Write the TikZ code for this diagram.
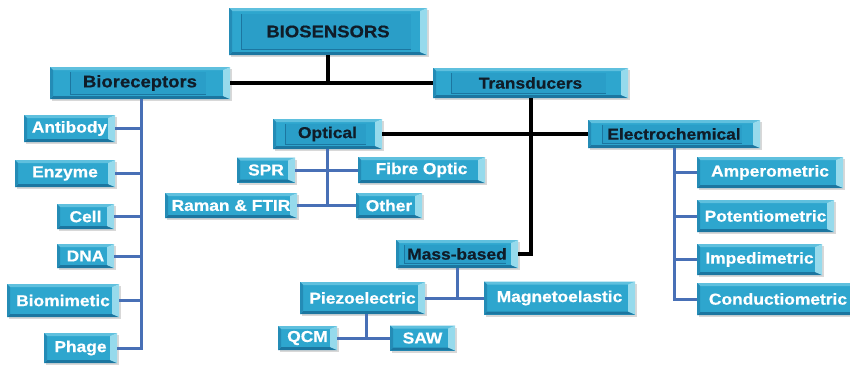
\documentclass[tikz,border=0pt]{standalone}
\usepackage{fontspec}
\setmainfont{Liberation Sans}[FakeStretch=1.1, BoldFeatures={FakeBold=0.6}]
\usetikzlibrary{shadows}
\definecolor{cmain}{RGB}{46,166,206}
\definecolor{cbevel}{RGB}{150,218,236}
\definecolor{ctop}{RGB}{95,192,222}
\definecolor{cbot}{RGB}{28,118,160}
\definecolor{cleft}{RGB}{36,140,182}
\definecolor{cinner}{RGB}{42,158,200}
\definecolor{cblue}{RGB}{72,112,182}
\definecolor{ctxt}{RGB}{16,28,40}
\newcommand{\fsmall}{\bfseries\fontsize{15.8}{17}\selectfont}
\newcommand{\fbig}{\bfseries\fontsize{16.8}{18}\selectfont}
\tikzset{
  btn/.style={fill=cmain, inner sep=0pt, font=\fsmall,
    drop shadow={shadow xshift=1.5pt, shadow yshift=-2pt, opacity=0.3},
    path picture={
      \fill[ctop] (path picture bounding box.north west) -- (path picture bounding box.north east)
        -- ([shift={(-7pt,-3pt)}]path picture bounding box.north east) -- ([shift={(3pt,-3pt)}]path picture bounding box.north west) -- cycle;
      \fill[cbot] (path picture bounding box.south west) -- (path picture bounding box.south east)
        -- ([shift={(-7pt,3pt)}]path picture bounding box.south east) -- ([shift={(3pt,3pt)}]path picture bounding box.south west) -- cycle;
      \fill[cleft] (path picture bounding box.south west) -- (path picture bounding box.north west)
        -- ([shift={(3pt,-3pt)}]path picture bounding box.north west) -- ([shift={(3pt,3pt)}]path picture bounding box.south west) -- cycle;
      \fill[cbevel] (path picture bounding box.north east) -- (path picture bounding box.south east)
        -- ([shift={(-7pt,3pt)}]path picture bounding box.south east) -- ([shift={(-7pt,-3pt)}]path picture bounding box.north east) -- cycle;
    }},
  leafbox/.style={btn, text=white},
  topbox/.style={btn, text=ctxt},
  toplabel/.style={text=ctxt, inner sep=0pt},
  blk/.style={line width=4pt, black},
  blu/.style={line width=3pt, cblue},
}
\begin{document}
\begin{tikzpicture}[x=1pt, y=-1pt]
\useasboundingbox (0,0) rectangle (850,364);
\fill[white] (0,0) rectangle (850,364);

% top-level nodes
\node[topbox, minimum width=198pt, minimum height=47pt] (bio) at (328,31.5) {};
\node[topbox, minimum width=180pt, minimum height=32pt] (biorec) at (140,83) {};
\node[topbox, minimum width=195pt, minimum height=30pt] (trans) at (530.5,83) {};
\node[topbox, minimum width=109pt, minimum height=30pt] (optical) at (327.5,134) {};
\node[topbox, minimum width=172pt, minimum height=28pt] (electro) at (674,134) {};
\node[topbox, minimum width=122pt, minimum height=28pt] (mass) at (457,254) {};

% inner panels
\foreach \n/\ix/\iy in {bio/12/6, biorec/20/5, trans/18/5, optical/12/5, electro/14/5, mass/8/5}{
  \fill[cinner] ([shift={(\ix pt,-\iy pt)}]\n.north west) rectangle ([shift={(-\ix pt-4pt,\iy pt)}]\n.south east);
  \draw[cbot, line width=0.5pt] ([shift={(\ix pt,-\iy pt)}]\n.north west) -- ([shift={(\ix pt,\iy pt)}]\n.south west) -- ([shift={(-\ix pt-4pt,\iy pt)}]\n.south east);
}
\node[toplabel, font=\fbig] (biot) at (bio) {BIOSENSORS};
\node[toplabel, font=\fbig] (biorect) at (biorec) {Bioreceptors};
\node[toplabel, font=\fsmall] (transt) at (trans) {Transducers};
\node[toplabel, font=\fsmall] (opticalt) at (optical) {Optical};
\node[toplabel, font=\fsmall] (electrot) at (electro) {Electrochemical};
\node[toplabel, font=\fsmall] (masst) at (mass) {Mass-based};

% bioreceptor leaves
\node[leafbox, minimum width=91pt, minimum height=27pt] (antibody) at (69.5,128.5) {Antibody};
\node[leafbox, minimum width=100pt, minimum height=27pt] (enzyme) at (65,173.5) {Enzyme};
\node[leafbox, minimum width=57pt, minimum height=25pt] (cell) at (85.5,216.5) {Cell};
\node[leafbox, minimum width=57pt, minimum height=24pt] (dna) at (85.5,256) {DNA};
\node[leafbox, minimum width=112pt, minimum height=33pt] (biomim) at (63,300.5) {Biomimetic};
\node[leafbox, minimum width=73pt, minimum height=30pt] (phage) at (80.5,348) {Phage};

% optical leaves
\node[leafbox, minimum width=58pt, minimum height=25pt] (spr) at (266,170) {SPR};
\node[leafbox, minimum width=127pt, minimum height=26pt] (fibre) at (421.5,170) {Fibre Optic};
\node[leafbox, minimum width=132pt, minimum height=25pt] (raman) at (231,205.5) {Raman \& FTIR};
\node[leafbox, minimum width=66pt, minimum height=25pt] (other) at (389,205.5) {Other};

% electrochemical leaves
\node[leafbox, minimum width=146pt, minimum height=31pt] (amp) at (770,172.5) {Amperometric};
\node[leafbox, minimum width=137pt, minimum height=32pt] (pot) at (765.5,216) {Potentiometric};
\node[leafbox, minimum width=125pt, minimum height=31pt] (imp) at (759.5,259.5) {Impedimetric};
\node[leafbox, minimum width=162pt, minimum height=32pt] (cond) at (778,299) {Conductiometric};

% mass-based leaves
\node[leafbox, minimum width=125pt, minimum height=32pt] (piezo) at (362.5,298) {Piezoelectric};
\node[leafbox, minimum width=151pt, minimum height=33pt] (magneto) at (559.5,298) {Magnetoelastic};
\node[leafbox, minimum width=59pt, minimum height=24pt] (qcm) at (307.5,338) {QCM};
\node[leafbox, minimum width=65pt, minimum height=25pt] (saw) at (422.5,338) {SAW};

% black connectors
\draw[blk] (bio.south) -- (bio.south |- biorec.east);
\draw[blk] (biorec.east) -- (trans.west);
\draw[blk] (optical.east) -- (electro.west);
\draw[blk] (trans.south) |- (mass.east);

% blue connectors
\coordinate (bj) at ([xshift=1pt]biorec.south);
\draw[blu] (bj) |- (phage.east);
\foreach \n in {antibody, enzyme, cell, dna, biomim}
  \draw[blu] (\n.east) -- (\n.east -| bj);
\draw[blu] (optical.south) -- (optical.south |- raman.east);
\draw[blu] (spr.east) -- (fibre.west);
\draw[blu] (raman.east) -- (other.west);
\draw[blu] (electro.south) |- (cond.west);
\foreach \n in {amp, pot, imp}
  \draw[blu] (\n.west) -- (\n.west -| electro.south);
\draw[blu] (mass.south) -- (mass.south |- piezo.east);
\draw[blu] (piezo.east) -- (magneto.west);
\coordinate (pj) at ([xshift=3.5pt]piezo.south);
\draw[blu] (pj) -- (pj |- qcm.east);
\draw[blu] (qcm.east) -- (saw.west);
\end{tikzpicture}
\end{document}
